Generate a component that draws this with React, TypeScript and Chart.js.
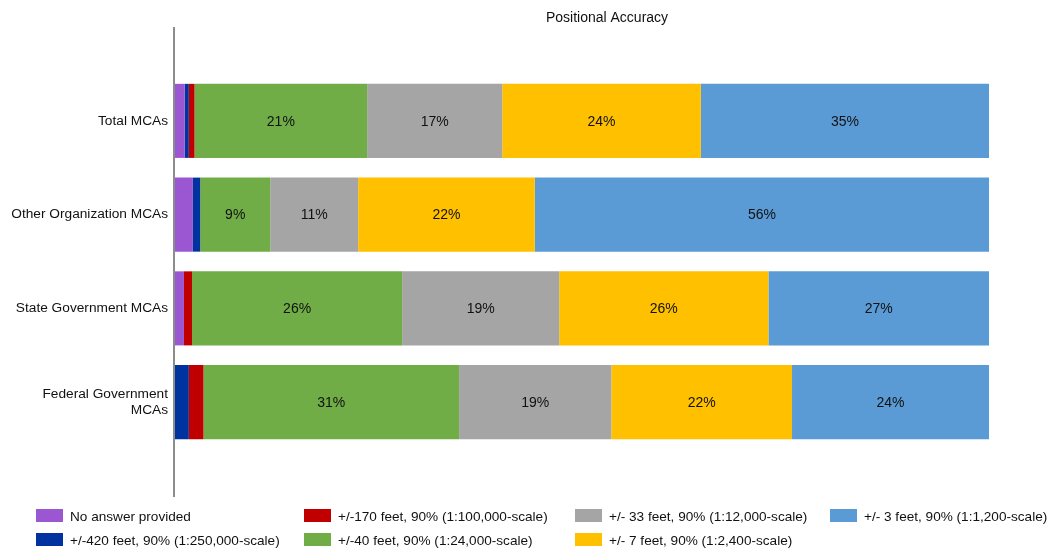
import React, { useEffect, useRef } from "react";
import { Chart, registerables } from "chart.js";

Chart.register(...registerables);

const categories: (string | string[])[] = [
  "Total MCAs",
  "Other Organization MCAs",
  "State Government MCAs",
  ["Federal Government", "MCAs"],
];

const seriesLabels = [
  "No answer provided",
  "+/-420 feet, 90% (1:250,000-scale)",
  "+/-170 feet, 90% (1:100,000-scale)",
  "+/-40 feet, 90% (1:24,000-scale)",
  "+/- 33 feet, 90% (1:12,000-scale)",
  "+/- 7 feet, 90% (1:2,400-scale)",
  "+/- 3 feet, 90% (1:1,200-scale)",
];

const seriesColors = ["#9B57D1", "#0033A0", "#C00000", "#70AD47", "#A5A5A5", "#FFC000", "#5B9BD5"];

const noAnswer = [1.2, 2.2, 1.1, 0];
const ft420 = [0.5, 0.9, 0, 1.7];
const ft170 = [0.7, 0, 1.0, 1.8];
const ft40 = [21.2, 8.6, 25.8, 31.4];
const ft33 = [16.6, 10.8, 19.3, 18.7];
const ft7 = [24.4, 21.7, 25.7, 22.2];
const ft3 = [35.4, 55.8, 27.1, 24.2];

const seriesValues = [noAnswer, ft420, ft170, ft40, ft33, ft7, ft3];

const chartTitle = "Positional Accuracy";
const FONT = "'Liberation Sans', Arial, sans-serif";
const TEXT = "#111111";

const decorPlugin = {
  id: "decor",
  afterDatasetsDraw(chart: any) {
    const ctx = chart.ctx;
    const area = chart.chartArea;
    ctx.save();
    // data labels
    ctx.font = `14px ${FONT}`;
    ctx.fillStyle = TEXT;
    ctx.textAlign = "center";
    ctx.textBaseline = "middle";
    chart.data.datasets.forEach((ds: any, di: number) => {
      const meta = chart.getDatasetMeta(di);
      meta.data.forEach((el: any, i: number) => {
        const v = ds.data[i];
        if (v >= 5) {
          ctx.fillText(Math.round(v) + "%", (el.x + el.base) / 2, el.y + 1);
        }
      });
    });
    // axis line
    ctx.strokeStyle = "#8c8c8c";
    ctx.lineWidth = 2;
    ctx.beginPath();
    ctx.moveTo(area.left - 1, area.top - 47);
    ctx.lineTo(area.left - 1, area.bottom + 48);
    ctx.stroke();
    // title
    ctx.fillStyle = TEXT;
    ctx.font = `14px ${FONT}`;
    ctx.fillText(chartTitle, (area.left + area.right) / 2 + 25, area.top - 56);
    // legend (column-major, 2 rows)
    const colX = [36, 304, 575, 830];
    const rowY = [area.bottom + 67, area.bottom + 91];
    ctx.font = `13.6px ${FONT}`;
    ctx.textAlign = "left";
    chart.data.datasets.forEach((ds: any, di: number) => {
      const col = Math.floor(di / 2);
      const row = di % 2;
      const x = colX[col];
      const y = rowY[row];
      ctx.fillStyle = ds.backgroundColor;
      ctx.fillRect(x, y - 7, 27, 13);
      ctx.fillStyle = TEXT;
      ctx.fillText(ds.label, x + 34, y + 1);
    });
    ctx.restore();
  },
};

export default function App() {
  const ref = useRef<HTMLCanvasElement>(null);
  useEffect(() => {
    document.body.style.margin = "0";
    const chart = new Chart(ref.current!, {
      type: "bar",
      data: {
        labels: categories,
        datasets: seriesValues.map((vals, i) => ({
          label: seriesLabels[i],
          data: vals,
          backgroundColor: seriesColors[i],
          borderWidth: 0,
          barPercentage: 0.79,
          categoryPercentage: 1,
        })),
      },
      options: {
        indexAxis: "y",
        animation: false,
        responsive: false,
        layout: { padding: { left: 0, right: 63, top: 74, bottom: 101 } },
        plugins: {
          legend: { display: false },
          title: { display: false },
          tooltip: { enabled: false },
        },
        scales: {
          x: { stacked: true, min: 0, max: 100, display: false },
          y: {
            stacked: true,
            grid: { display: false, drawTicks: false },
            border: { display: false },
            ticks: {
              color: TEXT,
              padding: 7,
              font: { size: 13.7, family: FONT, lineHeight: 1.22 },
            },
            afterFit(scale: any) {
              scale.width = 175;
            },
          },
        },
      },
      plugins: [decorPlugin],
    });
    return () => chart.destroy();
  }, []);
  return <canvas ref={ref} width={1052} height={550} style={{ display: "block" }} />;
}
